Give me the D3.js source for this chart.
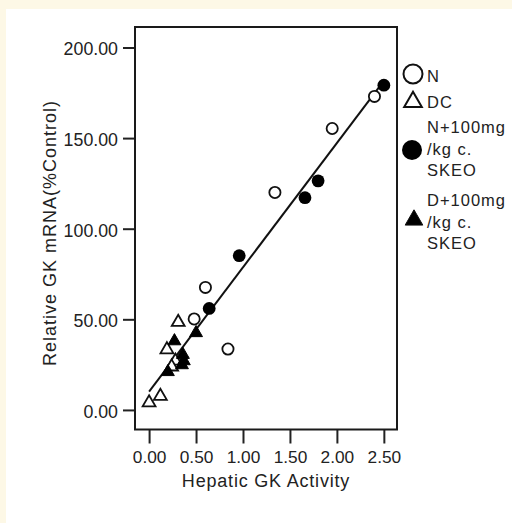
<!DOCTYPE html>
<html>
<head>
<meta charset="utf-8">
<script src="https://cdn.jsdelivr.net/npm/d3@7"></script>
<style>
  html, body { margin: 0; padding: 0; background: #fdf8e6; }
  svg { display: block; }
  text { font-family: "Liberation Sans", Arial, sans-serif; fill: #222; }
</style>
</head>
<body>
<svg id="chart" width="512" height="523"></svg>
<script>
// Hepatic GK activity vs relative GK mRNA, by group
const groups = ["N", "DC", "N+100mg/kg c. SKEO", "D+100mg/kg c. SKEO"];

const nActivity    = [2.40, 1.95, 1.34, 0.60, 0.48, 0.84];
const nMRNA        = [173.0, 155.3, 120.0, 67.6, 50.2, 33.6];

const dcActivity   = [0.31, 0.19, 0.28, 0.24, 0.12, 0.00];
const dcMRNA       = [48.4, 33.3, 27.0, 23.8, 7.6, 4.0];

const nkActivity   = [2.50, 1.80, 1.66, 0.96, 0.64];
const nkMRNA       = [179.2, 126.4, 117.1, 85.1, 56.0];

const dkActivity   = [0.50, 0.27, 0.36, 0.37, 0.35, 0.20];
const dkMRNA       = [42.5, 38.0, 30.5, 27.0, 24.8, 21.0];

const xTicks = [0, 0.5, 1.0, 1.5, 2.0, 2.5];
const yTicks = [0, 50, 100, 150, 200];

// fitted regression line: mRNA = intercept + slope * activity
const fitIntercept = 10.1;
const fitSlope = 68.6;
const fitRange = [0, 2.5];

const xTitle = "Hepatic GK  Activity";
const yTitle = "Relative GK mRNA(%Control)";

const svg = d3.select("#chart");
const W = 512, H = 523;

// page panel
svg.append("rect").attr("x", 0).attr("y", 0).attr("width", W).attr("height", H).attr("fill", "#fdf8e6");
svg.append("rect").attr("x", 6).attr("y", 9).attr("width", W - 6).attr("height", H - 9).attr("fill", "#ffffff");

const frame = { left: 135, right: 397, top: 27, bottom: 429.5 };

const x = d3.scaleLinear().domain([-0.15, 2.64]).range([frame.left, frame.right]);
const y = d3.scaleLinear().domain([-10.8, 211.3]).range([frame.bottom, frame.top]);

const fmt = d3.format(".2f");

// y axis
const yAxis = svg.append("g")
  .attr("transform", `translate(${frame.left},0)`)
  .call(d3.axisLeft(y).tickValues(yTicks).tickFormat(fmt).tickSize(12).tickPadding(5));
yAxis.select(".domain").remove();
yAxis.selectAll(".tick line").attr("stroke", "#222").attr("stroke-width", 2);
yAxis.selectAll(".tick text")
  .attr("font-size", 17.8).attr("dy", "0.42em").attr("fill", "#222")
  .style("font-family", "'Liberation Sans', Arial, sans-serif");

// x axis
const xAxis = svg.append("g")
  .attr("transform", `translate(0,${frame.bottom})`)
  .call(d3.axisBottom(x).tickValues(xTicks).tickFormat(fmt).tickSize(14).tickPadding(7));
xAxis.select(".domain").remove();
xAxis.selectAll(".tick line").attr("stroke", "#222").attr("stroke-width", 2);
xAxis.selectAll(".tick text")
  .attr("font-size", 17.3).attr("fill", "#222")
  .style("font-family", "'Liberation Sans', Arial, sans-serif");

// plot frame
svg.append("rect")
  .attr("x", frame.left).attr("y", frame.top)
  .attr("width", frame.right - frame.left).attr("height", frame.bottom - frame.top)
  .attr("fill", "none").attr("stroke", "#1a1a1a").attr("stroke-width", 2);

// axis titles
svg.append("text")
  .attr("x", (frame.left + frame.right) / 2)
  .attr("y", 487)
  .attr("text-anchor", "middle")
  .attr("font-size", 18)
  .attr("letter-spacing", 0.8)
  .text(xTitle);

svg.append("text")
  .attr("transform", `translate(56,233) rotate(-90)`)
  .attr("text-anchor", "middle")
  .attr("font-size", 18)
  .attr("letter-spacing", 1.0)
  .text(yTitle);

// regression line
svg.append("line")
  .attr("x1", x(fitRange[0])).attr("y1", y(fitIntercept + fitSlope * fitRange[0]))
  .attr("x2", x(fitRange[1])).attr("y2", y(fitIntercept + fitSlope * fitRange[1]))
  .attr("stroke", "#111").attr("stroke-width", 2);

const zip = (a, b) => a.map((v, i) => [v, b[i]]);
const circleR = 5.6;
const triSize = 72;
const tri = d3.symbol().type(d3.symbolTriangle).size(triSize);

const pts = svg.append("g");

// open circles: N
pts.selectAll("circle.n").data(zip(nActivity, nMRNA)).join("circle")
  .attr("class", "n")
  .attr("cx", d => x(d[0])).attr("cy", d => y(d[1])).attr("r", circleR)
  .attr("fill", "#fff").attr("stroke", "#111").attr("stroke-width", 1.8);

// open triangles: DC
pts.selectAll("path.dc").data(zip(dcActivity, dcMRNA)).join("path")
  .attr("class", "dc")
  .attr("transform", d => `translate(${x(d[0])},${y(d[1])})`)
  .attr("d", tri)
  .attr("fill", "#fff").attr("stroke", "#111").attr("stroke-width", 1.8);

// filled triangles: D + SKEO
pts.selectAll("path.dk").data(zip(dkActivity, dkMRNA)).join("path")
  .attr("class", "dk")
  .attr("transform", d => `translate(${x(d[0])},${y(d[1])})`)
  .attr("d", tri)
  .attr("fill", "#000").attr("stroke", "#000").attr("stroke-width", 1);

// filled circles: N + SKEO
pts.selectAll("circle.nk").data(zip(nkActivity, nkMRNA)).join("circle")
  .attr("class", "nk")
  .attr("cx", d => x(d[0])).attr("cy", d => y(d[1])).attr("r", circleR + 0.8)
  .attr("fill", "#000");

// legend
const legend = svg.append("g");
const legendItems = [
  { marker: "openCircle",  mx: 413, my: 74,  lines: ["N"],                       ty: 82 },
  { marker: "openTri",     mx: 413, my: 102, lines: ["DC"],                      ty: 108 },
  { marker: "fillCircle",  mx: 412, my: 150, lines: ["N+100mg", "/kg c.", "SKEO"], ty: 133 },
  { marker: "fillTri",     mx: 414, my: 220, lines: ["D+100mg", "/kg c.", "SKEO"], ty: 206 }
];
legendItems.forEach(it => {
  if (it.marker === "openCircle") {
    legend.append("circle").attr("cx", it.mx).attr("cy", it.my).attr("r", 9.5)
      .attr("fill", "#fff").attr("stroke", "#111").attr("stroke-width", 2);
  } else if (it.marker === "fillCircle") {
    legend.append("circle").attr("cx", it.mx).attr("cy", it.my).attr("r", 10).attr("fill", "#000");
  } else {
    legend.append("path")
      .attr("transform", `translate(${it.mx},${it.my})`)
      .attr("d", d3.symbol().type(d3.symbolTriangle).size(135)())
      .attr("fill", it.marker === "fillTri" ? "#000" : "#fff")
      .attr("stroke", "#111").attr("stroke-width", it.marker === "fillTri" ? 1 : 2);
  }
  const t = legend.append("text").attr("x", 427).attr("y", it.ty)
    .attr("font-size", 16.5).attr("letter-spacing", 1.0).attr("fill", "#1e1e1e");
  it.lines.forEach((ln, j) => {
    t.append("tspan").attr("x", 427).attr("dy", j === 0 ? 0 : 21.5).text(ln);
  });
});
</script>
</body>
</html>
